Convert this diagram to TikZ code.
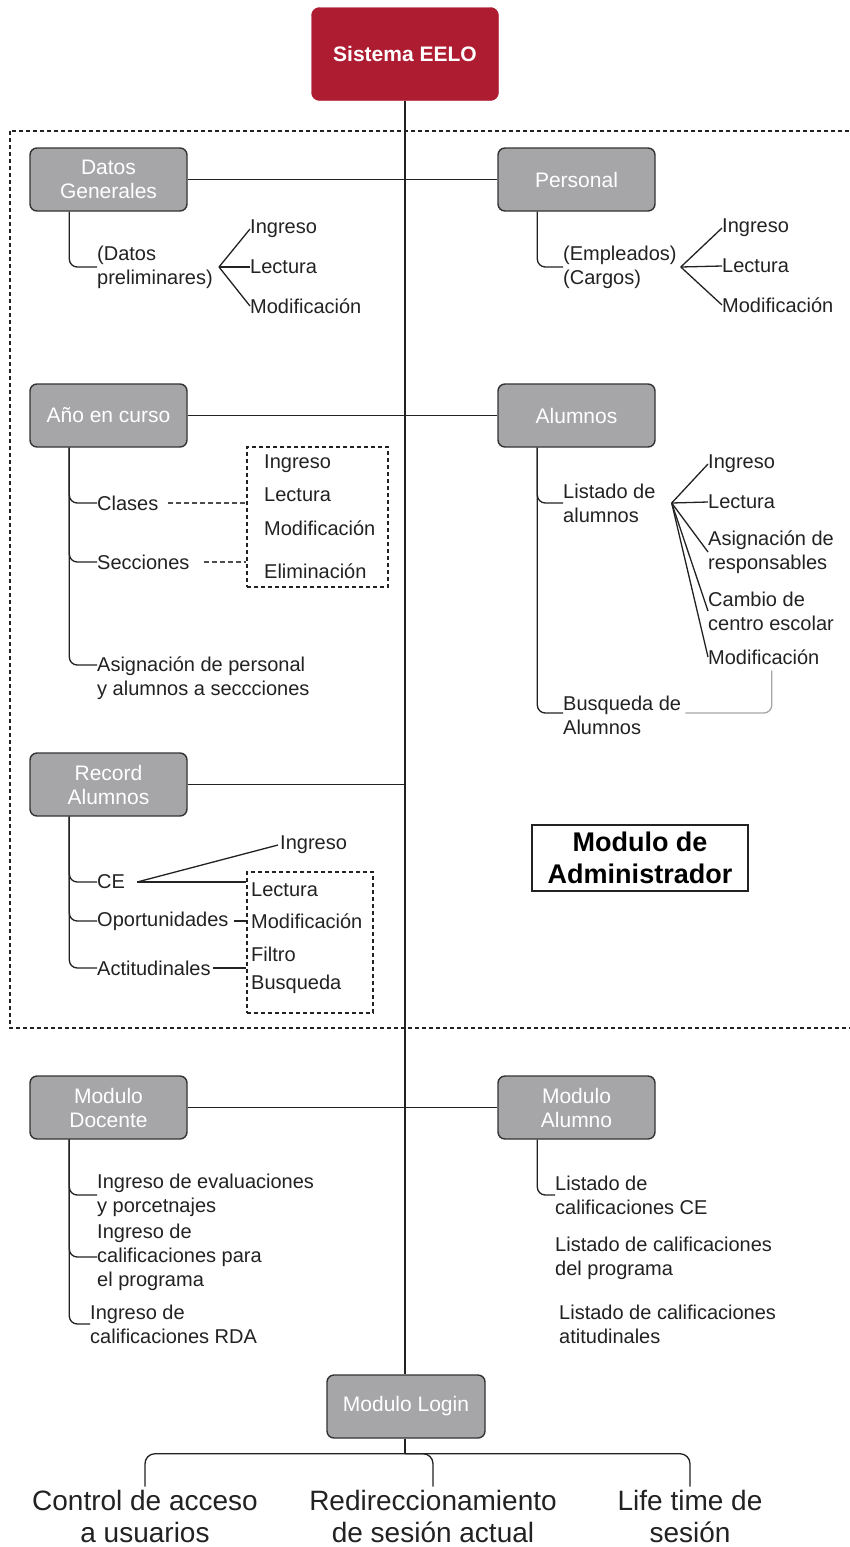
\documentclass[tikz,border=0pt]{standalone}
\usepackage{fontspec}
\setmainfont{Liberation Sans}
\usetikzlibrary{calc}
\definecolor{eelored}{HTML}{AE1C32}
\definecolor{modgray}{HTML}{A6A6A9}
\definecolor{edge}{HTML}{333333}
\definecolor{ink}{HTML}{222222}

\begin{document}
\begin{tikzpicture}[x=1pt,y=-1pt,
  module/.style={draw=edge, line width=1.4pt, fill=modgray, rounded corners=7pt,
    text=white, align=center, minimum width=157pt, minimum height=63pt,
    inner sep=2pt, font=\fontsize{21}{24}\selectfont},
  item/.style={inner sep=0pt, anchor=west, align=left, text=ink,
    font=\fontsize{20}{24}\selectfont},
  big/.style={inner sep=0pt, align=center, text=ink,
    font=\fontsize{28}{32}\selectfont},
  link/.style={draw=ink, line width=1.3pt},
  branch/.style={link, rounded corners=8pt},
  optbox/.style={draw=ink, line width=1.1pt, dash pattern=on 4pt off 3pt},
  dashlink/.style={draw=gray!60!black, line width=1.2pt, dash pattern=on 5pt off 3pt},
]
\useasboundingbox (0,0) rectangle (849,1547);
\fill[white] (0,0) rectangle (849,1547);

% frame of the administrator module
\draw[optbox] (10,131) rectangle (852,1028);

% root and module boxes
\node[draw=eelored, fill=eelored, rounded corners=8pt, minimum width=187pt,
  minimum height=93pt, text=white, font=\bfseries\fontsize{21}{24}\selectfont]
  (sys) at (405,54) {Sistema EELO};

\node[module] (dg)  at (108.5,179.5)  {Datos\\Generales};
\node[module] (per) at (576.5,179.5)  {Personal};
\node[module] (ano) at (108.5,415.5)  {Año en curso};
\node[module] (alu) at (576.5,415.5)  {Alumnos};
\node[module] (rec) at (108.5,784.5)  {Record\\Alumnos};
\node[module] (doc) at (108.5,1107.5) {Modulo\\Docente};
\node[module] (mal) at (576.5,1107.5) {Modulo\\Alumno};
\node[module, minimum width=158pt] (login) at (406,1406.5) {Modulo Login};

% spine and horizontal links
\draw[link] (sys.south) -- (sys.south |- login.north);
\draw[link] (dg.east) -- (per.west);
\draw[link] (ano.east) -- (alu.west);
\draw[link] (rec.east) -- (rec.east -| sys.south);
\draw[link] (doc.east) -- (mal.west);

% Datos Generales
\node[item] (dp) at (97,267) {(Datos\\preliminares)};
\draw[branch] ([xshift=40pt]dg.south west) |- (dp.west);
\coordinate (dpf) at ([xshift=6pt]dp.east);
\node[item] (dg1) at (250,229) {Ingreso};
\node[item] (dg2) at (250,267) {Lectura};
\node[item] (dg3) at (250,306) {Modificación};
\foreach \t in {dg1,dg2,dg3} \draw[link] (dpf) -- (\t.west);

% Personal
\node[item] (emp) at (563,267) {(Empleados)\\(Cargos)};
\draw[branch] ([xshift=40pt]per.south west) |- (emp.west);
\coordinate (empf) at ([xshift=4pt]emp.east);
\node[item] (pe1) at (722,228) {Ingreso};
\node[item] (pe2) at (722,266) {Lectura};
\node[item] (pe3) at (722,305) {Modificación};
\foreach \t in {pe1,pe2,pe3} \draw[link] (empf) -- (\t.west);

% Año en curso
\node[item] (cla) at (97,503) {Clases};
\node[item] (sec) at (97,562) {Secciones};
\node[item, anchor=north west] (asg) at (97,657) {Asignación de personal\\y alumnos a seccciones};
\draw[branch] ([xshift=40pt]ano.south west) |- (cla.west);
\draw[branch] ([xshift=40pt]ano.south west) |- (sec.west);
\draw[branch] ([xshift=40pt]ano.south west) |- ([yshift=-8pt]asg.north west);
\node[optbox, minimum width=141pt, minimum height=140pt, inner sep=0pt] (ops1) at (317.5,517) {};
\node[item] (o11) at (264,464) {Ingreso};
\node[item] (o12) at (264,495) {Lectura};
\node[item] (o13) at (264,528) {Modificación};
\node[item] (o14) at (264,571) {Eliminación};
\draw[dashlink] ([xshift=9pt]cla.east) -- (cla.east -| ops1.west);
\draw[dashlink] ([xshift=14pt]sec.east) -- (sec.east -| ops1.west);

% Alumnos
\node[item] (lda) at (563,503) {Listado de\\alumnos};
\node[item] (bus) at (563,715) {Busqueda de\\Alumnos};
\draw[branch] ([xshift=40pt]alu.south west) |- (lda.west);
\draw[branch] ([xshift=40pt]alu.south west) |- ([yshift=2pt]bus.west);
\coordinate (ldaf) at ([xshift=16pt]lda.east);
\node[item] (al1) at (708,464) {Ingreso};
\node[item] (al2) at (708,502) {Lectura};
\node[item] (al3) at (708,552) {Asignación de\\responsables};
\node[item] (al4) at (708,611) {Cambio de\\centro escolar};
\node[item] (al5) at (708,657) {Modificación};
\foreach \t in {al1,al2,al3,al4,al5} \draw[link] (ldaf) -- (\t.west);
\draw[link, draw=gray!70, rounded corners=8pt] ([xshift=4pt,yshift=2pt]bus.east) -| ([xshift=8pt,yshift=-6pt]al5.south);

% Record Alumnos
\node[item] (ce)  at (97,882) {CE};
\node[item] (opo) at (97,921) {Oportunidades};
\node[item] (act) at (97,968) {Actitudinales};
\foreach \t in {ce,opo,act} \draw[branch] ([xshift=40pt]rec.south west) |- (\t.west);
\node[optbox, minimum width=126pt, minimum height=141pt, inner sep=0pt] (ops2) at (310,942.5) {};
\coordinate (cef) at ([xshift=12pt]ce.east);
\node[item] (re1) at (280,845) {Ingreso};
\draw[link] (cef) -- ([xshift=-2pt]re1.west);
\draw[link] (cef) -- (cef -| ops2.west);
\draw[link] ([xshift=5pt]opo.east) -- (opo.east -| ops2.west);
\draw[link] ([xshift=2pt]act.east) -- (act.east -| ops2.west);
\node[item] (o21) at (251,890) {Lectura};
\node[item] (o22) at (251,921) {Modificación};
\node[item] (o23) at (251,954) {Filtro};
\node[item] (o24) at (251,984) {Busqueda};

% module title
\node[draw=ink, line width=1.2pt, fill=white, minimum width=216pt, minimum height=66pt,
  align=center, inner sep=0pt, font=\bfseries\fontsize{27}{32}\selectfont, text=black]
  (adm) at (640,858) {Modulo de\\Administrador};

% Modulo Docente
\node[item] (d1) at (97,1195) {Ingreso de evaluaciones\\y porcetnajes};
\node[item] (d2) at (97,1257) {Ingreso de\\calificaciones para\\el programa};
\node[item] (d3) at (90,1324) {Ingreso de\\calificaciones RDA};
\foreach \t in {d1,d2,d3} \draw[branch] ([xshift=40pt]doc.south west) |- (\t.west);

% Modulo Alumno
\node[item] (m1) at (555,1195) {Listado de\\calificaciones CE};
\draw[branch] ([xshift=40pt]mal.south west) |- (m1.west);
\node[item] (m2) at (555,1258) {Listado de calificaciones\\del programa};
\node[item] (m3) at (559,1324) {Listado de calificaciones\\atitudinales};

% Modulo Login
\coordinate (lj) at ([yshift=-15pt]login.south -| sys.south);
\draw[link] (login.south -| sys.south) -- (lj);
\node[big] (b1) at (145,1516) {Control de acceso\\a usuarios};
\node[big] (b2) at (433,1516) {Redireccionamiento\\de sesión actual};
\node[big] (b3) at (690,1516) {Life time de\\sesión};
\foreach \t in {b1,b2,b3} \draw[branch, rounded corners=10pt] (lj) -| ([yshift=3pt]\t.north);
\end{tikzpicture}
\end{document}
